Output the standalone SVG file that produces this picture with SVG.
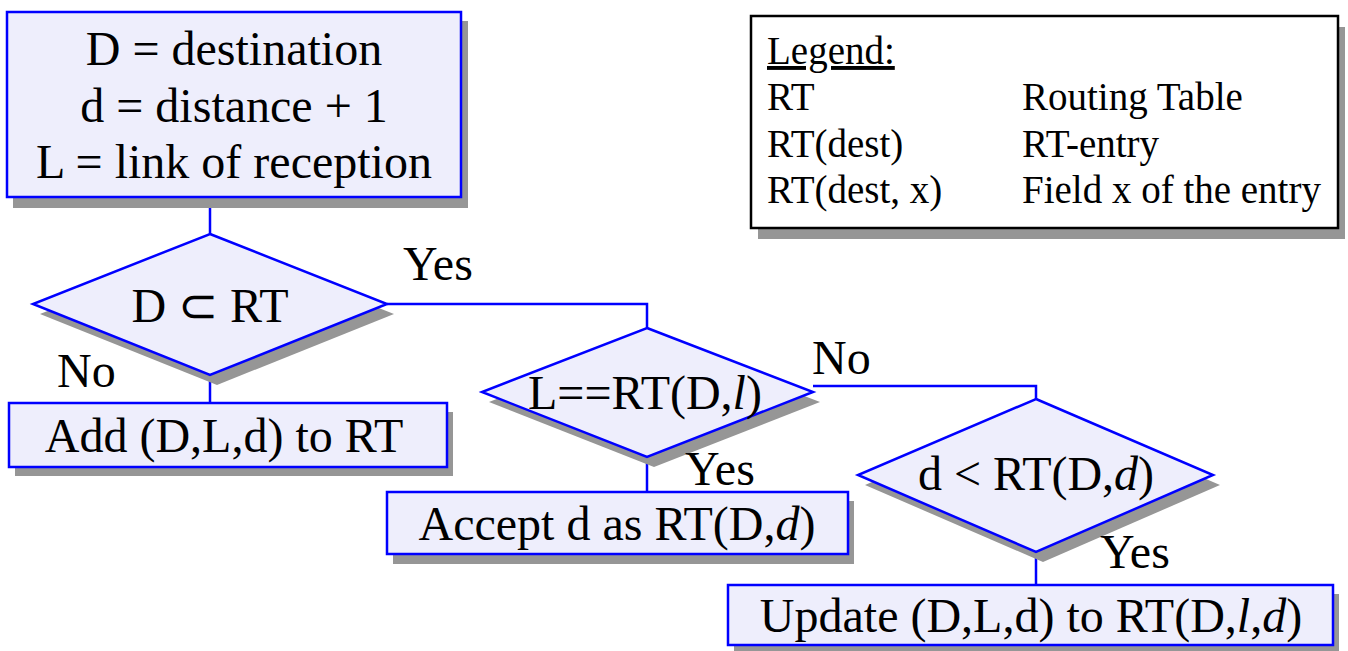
<svg xmlns="http://www.w3.org/2000/svg" width="1348" height="651" viewBox="0 0 1348 651">
<style>
.node{fill:#eeeefc;stroke:#0000ff;stroke-width:2.5}
.shadow{fill:#969696;stroke:none}
.conn{fill:none;stroke:#0000ff;stroke-width:2.5}
.t{font-family:"Liberation Serif","Times New Roman",serif;font-size:48px;fill:#000}
.lg{font-family:"Liberation Serif","Times New Roman",serif;font-size:39px;fill:#000}
.c{text-anchor:middle}
</style>
<rect width="1348" height="651" fill="#fff"/>
<g id="connectors">
<path class="conn" d="M210 197 V234"/>
<path class="conn" d="M210 375 V403"/>
<path class="conn" d="M387 304 H647 V328"/>
<path class="conn" d="M647 457 V492"/>
<path class="conn" d="M813 386 H1036 V399"/>
<path class="conn" d="M1036 552 V585"/>
</g>
<g id="start">
<rect class="shadow" x="13" y="21" width="455" height="187"/>
<rect class="node" x="7" y="12" width="454" height="185"/>
<text class="t c" x="234" y="65">D = destination</text>
<text class="t c" x="234" y="122">d = distance + 1</text>
<text class="t c" x="234" y="178">L = link of reception</text>
</g>
<g id="legend">
<rect class="shadow" x="758" y="27" width="587" height="212"/>
<rect x="751" y="16" width="587" height="212" fill="#fff" stroke="#000" stroke-width="2.5"/>
<text class="lg" x="767" y="64" text-decoration="underline">Legend:</text>
<text class="lg" x="767" y="110">RT</text>
<text class="lg" x="1022" y="110">Routing Table</text>
<text class="lg" x="767" y="157">RT(dest)</text>
<text class="lg" x="1022" y="157">RT-entry</text>
<text class="lg" x="767" y="203">RT(dest, x)</text>
<text class="lg" x="1022" y="203">Field x of the entry</text>
</g>
<g id="decision1">
<polygon class="shadow" points="217,244 394,314 217,385 40,314"/>
<polygon class="node" points="210,234 387,304 210,375 33,304"/>
<text class="t c" x="210" y="322">D ⊂ RT</text>
</g>
<text class="t" x="403" y="280">Yes</text>
<text class="t" x="57" y="387">No</text>
<g id="add">
<rect class="shadow" x="15" y="412" width="438" height="64"/>
<rect class="node" x="9" y="403" width="438" height="64"/>
<text class="t c" x="224" y="452">Add (D,L,d) to RT</text>
</g>
<g id="decision2">
<polygon class="shadow" points="654,338 820,402 654,467 489,402"/>
<polygon class="node" points="647,328 813,392 647,457 482,392"/>
<text class="t c" x="645" y="409">L==RT(D,<tspan font-style="italic">l</tspan>)</text>
</g>
<text class="t" x="812" y="374">No</text>
<text class="t" x="685" y="485">Yes</text>
<g id="accept">
<rect class="shadow" x="393" y="501" width="461" height="63"/>
<rect class="node" x="387" y="492" width="461" height="62"/>
<text class="t c" x="617" y="540">Accept d as RT(D,<tspan font-style="italic">d</tspan>)</text>
</g>
<g id="decision3">
<polygon class="shadow" points="1043,409 1220,485 1043,562 865,485"/>
<polygon class="node" points="1036,399 1213,475 1036,552 858,475"/>
<text class="t c" x="1036" y="490">d &lt; RT(D,<tspan font-style="italic">d</tspan>)</text>
</g>
<text class="t" x="1100" y="568">Yes</text>
<g id="update">
<rect class="shadow" x="734" y="594" width="605" height="61"/>
<rect class="node" x="728" y="585" width="605" height="60"/>
<text class="t c" x="1031" y="632">Update (D,L,d) to RT(D,<tspan font-style="italic">l</tspan>,<tspan font-style="italic">d</tspan>)</text>
</g>
</svg>
